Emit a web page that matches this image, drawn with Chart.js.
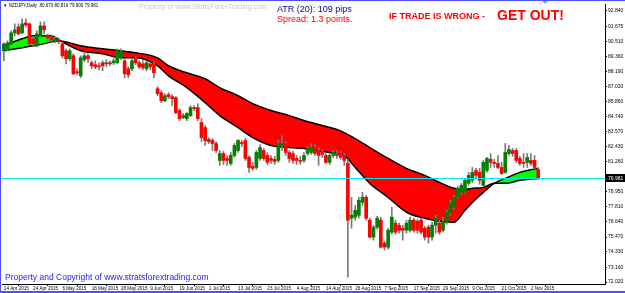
<!DOCTYPE html>
<html><head><meta charset="utf-8">
<script src="https://cdn.jsdelivr.net/npm/chart.js@4.4.0/dist/chart.umd.min.js"></script>
<style>
html,body{margin:0;padding:0;background:#fff;}
#wrap{position:relative;width:625px;height:293px;overflow:hidden;}
canvas{position:absolute;left:0;top:0;}
.t{position:absolute;white-space:nowrap;font-family:'Liberation Sans',Arial,sans-serif;line-height:1;}
</style></head><body>
<div id="wrap">
<canvas id="c" width="625" height="293"></canvas>
<div class="t" style="left:3px;top:4px;font-size:4.5px;color:#000">▼ NZDJPY,Daily&nbsp; 80.670 80.816 79.900 79.981</div>
<div class="t" style="left:139px;top:3px;font-size:7px;color:#c8c8c8">Property of www.StratsForexTrading.com</div>
<div class="t" style="left:277px;top:5px;font-size:9px;color:#0a0a8c">ATR (20): 109 pips</div>
<div class="t" style="left:277px;top:14.5px;font-size:9px;color:#ff0000">Spread: 1.3 points.</div>
<div class="t" style="left:389px;top:12px;font-size:9px;font-weight:bold;color:#ff0000">IF TRADE IS WRONG - </div>
<div class="t" style="left:497px;top:8px;font-size:14px;font-weight:bold;color:#ff0000">GET OUT!</div>
<div class="t" style="left:5px;top:273px;font-size:8.5px;color:#2020ff">Property and Copyright of www.stratsforextrading.com</div>
</div>
<script>
const dates = [
'14 Apr 2015','15 Apr 2015','16 Apr 2015','17 Apr 2015','20 Apr 2015','21 Apr 2015','22 Apr 2015','23 Apr 2015','24 Apr 2015','27 Apr 2015','28 Apr 2015','29 Apr 2015','30 Apr 2015',
'1 May 2015','4 May 2015','5 May 2015','6 May 2015','7 May 2015','8 May 2015','11 May 2015','12 May 2015','13 May 2015','14 May 2015','15 May 2015','18 May 2015','19 May 2015','20 May 2015','21 May 2015','22 May 2015','25 May 2015','26 May 2015','27 May 2015','28 May 2015','29 May 2015',
'1 Jun 2015','2 Jun 2015','3 Jun 2015','4 Jun 2015','5 Jun 2015','8 Jun 2015','9 Jun 2015','10 Jun 2015','11 Jun 2015','12 Jun 2015','15 Jun 2015','16 Jun 2015','17 Jun 2015','18 Jun 2015','19 Jun 2015','22 Jun 2015','23 Jun 2015','24 Jun 2015','25 Jun 2015','26 Jun 2015','29 Jun 2015','30 Jun 2015',
'1 Jul 2015','2 Jul 2015','3 Jul 2015','6 Jul 2015','7 Jul 2015','8 Jul 2015','9 Jul 2015','10 Jul 2015','13 Jul 2015','14 Jul 2015','15 Jul 2015','16 Jul 2015','17 Jul 2015','20 Jul 2015','21 Jul 2015','22 Jul 2015','23 Jul 2015','24 Jul 2015','27 Jul 2015','28 Jul 2015','29 Jul 2015','30 Jul 2015','31 Jul 2015',
'3 Aug 2015','4 Aug 2015','5 Aug 2015','6 Aug 2015','7 Aug 2015','10 Aug 2015','11 Aug 2015','12 Aug 2015','13 Aug 2015','14 Aug 2015','17 Aug 2015','18 Aug 2015','19 Aug 2015','20 Aug 2015','21 Aug 2015','24 Aug 2015','25 Aug 2015','26 Aug 2015','27 Aug 2015','28 Aug 2015','31 Aug 2015',
'1 Sep 2015','2 Sep 2015','3 Sep 2015','4 Sep 2015','7 Sep 2015','8 Sep 2015','9 Sep 2015','10 Sep 2015','11 Sep 2015','14 Sep 2015','15 Sep 2015','16 Sep 2015','17 Sep 2015','18 Sep 2015','21 Sep 2015','22 Sep 2015','23 Sep 2015','24 Sep 2015','25 Sep 2015','28 Sep 2015','29 Sep 2015','30 Sep 2015',
'1 Oct 2015','2 Oct 2015','5 Oct 2015','6 Oct 2015','7 Oct 2015','8 Oct 2015','9 Oct 2015','12 Oct 2015','13 Oct 2015','14 Oct 2015','15 Oct 2015','16 Oct 2015','19 Oct 2015','20 Oct 2015','21 Oct 2015','22 Oct 2015','23 Oct 2015','26 Oct 2015','27 Oct 2015','28 Oct 2015','29 Oct 2015','30 Oct 2015',
'2 Nov 2015','3 Nov 2015','4 Nov 2015'];

const opens = [89.78,89.93,90.31,91.16,91.62,91.16,91.92,91.85,90.70,90.16,90.93,91.69,90.93,90.85,90.54,90.62,90.31,89.78,89.17,89.40,
88.17,87.86,89.09,89.40,88.86,88.71,88.63,88.86,88.78,88.86,88.86,88.86,89.24,89.01,88.40,88.40,89.17,88.86,88.78,88.40,
88.78,88.78,86.87,86.56,85.95,86.41,86.26,86.18,85.19,84.65,84.57,84.80,85.42,85.42,84.27,83.88,82.97,82.89,82.66,81.36,
81.89,81.51,81.13,81.74,82.12,82.74,82.89,81.59,80.90,80.82,81.51,82.12,81.74,81.51,81.44,81.36,82.51,82.66,81.97,81.89,
81.51,81.36,81.36,81.89,81.97,82.35,82.12,81.97,81.74,81.21,81.74,81.89,81.89,81.74,81.13,76.92,77.00,77.15,78.14,78.53,
76.77,75.47,76.23,76.77,75.01,74.70,75.85,76.54,76.38,76.15,76.00,76.00,76.77,76.69,76.77,76.15,76.23,75.47,76.38,76.54,
76.00,76.61,77.30,77.76,78.53,78.91,78.91,79.60,79.83,80.59,80.44,79.45,80.59,81.44,81.21,81.13,80.82,80.44,81.89,82.12,
82.12,81.51,81.21,81.21,81.36,81.36,80.67];
const highs = [90.39,90.54,91.31,91.85,91.85,92.23,92.23,91.92,90.85,91.31,92.00,92.00,91.08,91.00,90.85,90.77,90.47,89.93,89.93,89.55,
88.40,89.40,89.63,89.55,89.01,89.01,88.86,89.01,89.09,89.01,89.17,89.93,89.93,89.17,88.55,89.17,89.32,89.01,89.01,89.01,
88.94,88.94,87.02,86.72,86.49,86.56,86.41,86.26,85.34,84.96,85.03,85.57,85.57,85.72,84.57,84.04,83.12,83.04,82.81,82.12,
82.05,81.74,81.97,82.66,82.97,82.89,83.04,81.74,81.21,82.12,82.58,82.28,81.97,81.74,81.67,82.89,83.27,82.81,82.12,82.05,
81.74,81.67,81.97,82.43,82.66,82.58,82.35,82.20,81.89,81.89,82.12,82.12,82.05,81.89,81.44,78.53,77.91,78.53,78.91,78.68,
76.92,76.38,77.07,77.00,75.16,76.15,77.76,76.77,76.54,76.38,76.77,77.00,76.92,76.84,76.92,76.31,76.38,76.61,77.15,76.77,
77.00,77.53,78.30,78.68,79.37,79.60,79.98,80.44,80.82,80.75,80.75,81.36,81.59,81.89,81.44,81.74,81.21,82.66,82.51,82.28,
82.28,81.67,81.89,81.89,81.89,81.74,80.82];
const lows = [89.01,89.78,90.24,90.93,91.00,91.08,91.62,90.24,90.16,90.08,90.85,91.08,90.54,90.39,90.39,90.31,89.24,88.78,89.01,87.94,
87.94,87.71,88.94,88.86,88.40,88.40,88.32,88.25,88.55,88.63,88.71,88.78,89.09,87.71,87.71,88.25,88.71,88.40,88.32,88.25,
88.32,87.71,86.33,85.80,85.88,86.10,85.57,84.96,84.42,84.57,84.42,84.73,85.19,84.42,82.81,82.51,82.66,82.12,81.97,80.98,
81.05,80.98,80.98,81.59,81.97,82.43,81.36,80.44,80.59,80.67,81.36,81.36,81.05,81.13,81.05,81.21,82.12,81.74,81.21,81.13,
81.05,81.05,81.21,81.74,81.82,81.74,80.98,81.59,81.13,81.05,81.59,81.51,81.44,80.98,72.40,76.15,76.77,76.92,77.91,76.77,
75.39,75.24,76.08,74.62,74.47,74.55,75.69,75.69,75.77,75.24,75.77,75.85,75.85,75.77,75.69,75.24,75.01,75.24,75.77,75.69,
75.85,76.46,77.15,77.61,78.45,78.76,78.83,79.45,79.67,79.98,79.52,79.37,80.44,80.82,80.82,80.75,80.29,80.36,81.74,81.67,
81.21,80.98,80.82,80.82,80.98,80.75,79.90];
const closes = [90.31,90.39,91.16,91.39,91.08,91.85,91.77,90.31,90.31,91.08,91.69,91.39,90.77,90.62,90.70,90.47,89.40,89.17,89.78,88.02,
88.09,89.24,89.40,89.17,88.63,88.55,88.55,88.63,88.86,88.78,89.01,89.78,89.70,88.02,87.94,89.01,88.86,88.55,88.48,88.86,
88.55,88.09,86.49,85.95,86.33,86.26,86.10,85.03,84.57,84.80,84.96,85.42,85.34,84.57,83.12,82.89,82.81,82.66,82.12,81.89,
81.36,81.36,81.74,82.51,82.89,82.66,81.51,80.82,80.75,81.97,82.35,81.51,81.21,81.36,81.28,82.66,82.66,81.97,81.51,81.36,
81.36,81.28,81.74,82.28,82.35,81.89,81.74,81.82,81.21,81.74,81.97,81.74,81.59,81.36,76.77,77.15,77.53,78.30,78.53,76.92,
75.47,76.23,76.92,74.70,74.70,76.00,77.00,75.85,76.00,76.00,76.54,76.77,76.00,76.00,75.85,75.47,75.47,76.38,76.92,75.85,
76.61,77.38,78.07,78.53,79.22,79.45,79.83,80.21,80.44,80.21,79.83,81.21,81.51,81.21,81.13,80.82,80.36,81.97,82.20,81.89,
81.36,81.13,81.13,81.59,81.13,80.82,79.981];

// moving-average cloud, read at selected bars (bar index into dates)
const maBars = [0,5,8,12,13,15,18,21,27,32,36,42,45,50,55,59,64,68,73,78,82,87,91,93,96,100,105,110,115,119,123,126,128,131,134,137,141,146];
const maFast = [90.16,90.70,90.93,90.93,90.93,90.62,90.16,89.78,89.55,89.24,89.24,88.63,87.86,86.95,85.80,84.80,83.88,83.12,82.51,82.35,
82.28,82.05,81.89,81.74,80.82,79.60,78.52,77.38,76.92,76.69,76.61,77.53,78.14,78.91,79.60,79.98,80.44,80.75];
const maSlow = [89.78,90.01,90.16,90.39,90.47,90.54,90.39,90.16,89.93,89.78,89.63,89.24,88.63,88.09,87.63,86.95,86.33,85.72,85.19,84.80,
84.42,84.04,83.73,83.50,83.04,82.35,81.51,80.75,80.21,79.67,79.22,79.14,79.22,79.29,79.60,79.60,79.83,79.98];

const yTicks = [92.840,91.675,90.510,89.360,88.190,87.030,85.860,84.740,83.570,82.430,81.260,78.950,77.810,76.640,75.470,74.330,73.160,72.020];
const bidPrice = 79.981;
const dateTickEvery = 8;

const decor = {
  id: 'decor',
  beforeDraw(chart) {
    const ctx = chart.ctx;
    ctx.save(); ctx.fillStyle = '#fff'; ctx.fillRect(0, 0, chart.width, chart.height); ctx.restore();
  },
  afterDatasetsDraw(chart) {
    const {ctx, chartArea: a, scales: {y}} = chart;
    const py = Math.round(y.getPixelForValue(bidPrice)) + 0.5;
    ctx.save();
    ctx.strokeStyle = '#00e8f0'; ctx.lineWidth = 1;
    ctx.beginPath(); ctx.moveTo(a.left, py); ctx.lineTo(a.right, py); ctx.stroke();
    ctx.restore();
  },
  afterDraw(chart) {
    const {ctx, chartArea: a, scales: {y}} = chart;
    const py = Math.round(y.getPixelForValue(bidPrice));
    ctx.save();
    ctx.fillStyle = '#000';
    ctx.fillRect(a.right + 1, py - 4, 19, 8);
    ctx.fillStyle = '#fff';
    ctx.font = '5px "Liberation Sans"';
    ctx.textBaseline = 'middle';
    ctx.fillText(bidPrice.toFixed(3), a.right + 3, py + 0.5);
    ctx.fillStyle = '#40c8d0';
    ctx.beginPath(); ctx.moveTo(542, 1); ctx.lineTo(548, 1); ctx.lineTo(545, 4); ctx.closePath(); ctx.fill();
    ctx.fillStyle = '#5050f0';
    ctx.fillRect(0, 0, chart.width, 1);
    ctx.fillRect(0, 0, 1, chart.height);
    ctx.fillRect(0, chart.height - 2, chart.width, 2);
    ctx.restore();
  }
};

const bull = closes.map((c, i) => c >= opens[i]);

new Chart(document.getElementById('c'), {
  type: 'bar',
  data: {
    datasets: [
      {type: 'line', label: 'slow', data: maBars.map((x, k) => ({x, y: maSlow[k]})),
       borderColor: '#000', borderWidth: 1.5, pointRadius: 0, cubicInterpolationMode: 'monotone', fill: false, order: 3},
      {type: 'line', label: 'fast', data: maBars.map((x, k) => ({x, y: maFast[k]})),
       borderColor: '#000', borderWidth: 1.5, pointRadius: 0, cubicInterpolationMode: 'monotone',
       fill: {target: 0, above: '#00ff00', below: '#ff0000'}, order: 2},
      {type: 'bar', label: 'wick', data: dates.map((d, i) => ({x: i, y: [lows[i], highs[i]]})),
       backgroundColor: '#7a7a7a', barThickness: 1, grouped: false, order: 1},
      {type: 'bar', label: 'body', data: dates.map((d, i) => ({x: i, y: [opens[i], closes[i]]})),
       backgroundColor: bull.map(b => b ? '#008000' : '#ff0000'), barThickness: 3, grouped: false, minBarLength: 1, order: 0}
    ]
  },
  options: {
    responsive: false, animation: false, devicePixelRatio: 1,
    layout: {padding: {left: 2, top: 3, right: 0, bottom: 0}},
    plugins: {legend: {display: false}, tooltip: {enabled: false}, filler: {drawTime: 'beforeDatasetsDraw'}},
    scales: {
      x: {
        type: 'linear', min: -0.5, max: 164.25, offset: false,
        grid: {display: true, drawOnChartArea: false, drawTicks: true, tickLength: 2, color: '#000'},
        border: {display: true, color: '#000'},
        afterBuildTicks: s => { s.ticks = dates.map((d, i) => i).filter(i => i % dateTickEvery === 0).map(v => ({value: v})); },
        ticks: {autoSkip: false, maxRotation: 0, minRotation: 0, align: 'start', padding: 0,
                font: {size: 4.6, family: 'Liberation Sans'}, color: '#000', callback: v => dates[v]},
        afterFit: s => { s.height = 9; }
      },
      y: {
        position: 'right', min: 71.868, max: 93.375,
        grid: {display: true, drawOnChartArea: false, tickLength: 2, color: '#000'},
        border: {display: true, color: '#000'},
        afterBuildTicks: s => { s.ticks = yTicks.map(v => ({value: v})); },
        ticks: {padding: 1, font: {size: 5, family: 'Liberation Sans'}, color: '#000', callback: v => v.toFixed(3)},
        afterFit: s => { s.width = 20; }
      }
    }
  },
  plugins: [decor]
});
</script>
</body></html>
